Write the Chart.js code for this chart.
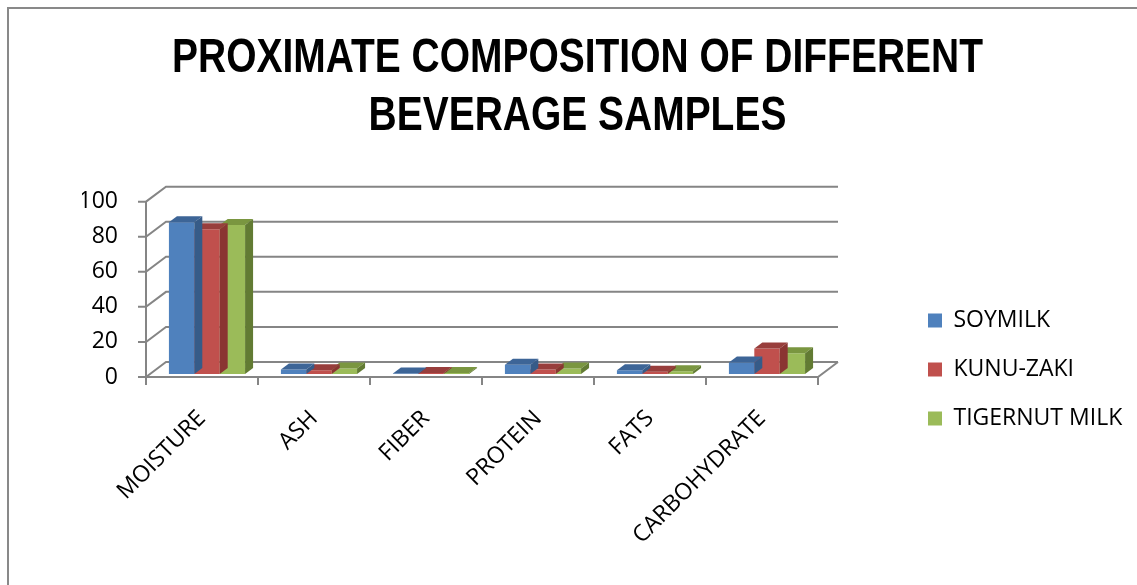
<!DOCTYPE html>
<html><head><meta charset="utf-8">
<script src="https://cdn.jsdelivr.net/npm/chart.js@4"></script>
<style>
html,body{margin:0;padding:0;background:#fff;overflow:hidden;width:1137px;height:585px}
#frame{position:absolute;left:7px;top:7px;border-left:2px solid #898989;border-top:2px solid #898989;width:1140px;height:590px}
#wrap{position:absolute;left:0;top:0;width:1137px;height:576px}
</style></head><body>
<div id="frame"><div id="wrap"><canvas id="c" width="1137" height="576"></canvas></div></div>
<script>
const categories = ['MOISTURE', 'ASH', 'FIBER', 'PROTEIN', 'FATS', 'CARBOHYDRATE'];
const soymilk = [86.6, 2.5, 0.3, 5.3, 2.1, 6.6];
const kunuZaki = [82.5, 2.1, 0.6, 2.5, 1.3, 14.5];
const tigernutMilk = [84.9, 3.2, 0.5, 3.2, 1.5, 11.8];
const yTicks = [0, 20, 40, 60, 80, 100];
const titleLines = ['PROXIMATE COMPOSITION OF DIFFERENT', 'BEVERAGE SAMPLES'];
const seriesNames = ['SOYMILK', 'KUNU-ZAKI', 'TIGERNUT MILK'];

const frontColors = ['#4F81BD', '#C0504D', '#9BBB59'];
const topColors = ['#3D6597', '#983E3C', '#7A9640'];
const sideColors = ['#365B88', '#8A3532', '#627B33'];

const DX = 20, DY = 15;      // wall depth
const BX = 5, BY = -3;       // bar plane offset
const BDX = 8, BDY = 6;      // bar depth
const TITLE_SX = 0.795;
const LEGEND_LEFT = 893, LEGEND_TOP = 274;

const frame3d = {
  id: 'frame3d',
  afterLayout(chart) {
    const lg = chart.legend;
    if (lg) {
      lg.left = LEGEND_LEFT;
      lg.right = chart.width;
      lg.width = lg.right - lg.left;
      lg.top = LEGEND_TOP;
      lg.bottom = LEGEND_TOP + 200;
      lg.height = 200;
    }
    const t = chart.titleBlock;
    if (t) {
      t.left = 0;
      t.right = chart.width;
      t.width = chart.width;
    }
  },
  beforeDraw(chart) {
    const t = chart.titleBlock;
    if (t && !t._narrow) {
      const orig = t.draw.bind(t);
      t.draw = function () {
        const ctx = this.ctx;
        const cx = (this.left + this.right) / 2;
        ctx.save();
        ctx.translate(cx, 0);
        ctx.scale(TITLE_SX, 1);
        ctx.translate(-cx, 0);
        orig();
        ctx.restore();
      };
      t._narrow = true;
    }
  },
  beforeDatasetsDraw(chart) {
    const {ctx, chartArea: a, scales: {y}} = chart;
    const y0 = y.getPixelForValue(0), yTop = y.getPixelForValue(100);
    ctx.save();
    ctx.strokeStyle = '#858585';
    ctx.lineWidth = 2;
    ctx.beginPath();
    yTicks.forEach(v => {
      const p = y.getPixelForValue(v);
      ctx.moveTo(a.left - 8, p);
      ctx.lineTo(a.left, p);
      ctx.lineTo(a.left + DX, p - DY);
      ctx.lineTo(a.right + DX, p - DY);
    });
    ctx.moveTo(a.left, yTop);
    ctx.lineTo(a.left, y0);
    ctx.lineTo(a.right, y0);
    ctx.lineTo(a.right + DX, y0 - DY);
    const n = categories.length, w = (a.right - a.left) / n;
    for (let i = 0; i <= n; i++) {
      const px = a.left + i * w;
      ctx.moveTo(px, y0);
      ctx.lineTo(px, y0 + 8);
    }
    ctx.stroke();
    ctx.restore();
    ctx.save();
    ctx.translate(BX, BY);
  },
  afterDatasetDraw(chart, args) {
    const ctx = chart.ctx;
    const i = args.index;
    args.meta.data.forEach(el => {
      const {x, y, base, width} = el.getProps(['x', 'y', 'base', 'width'], true);
      const l = x - width / 2, r = x + width / 2;
      ctx.fillStyle = topColors[i];
      ctx.beginPath();
      ctx.moveTo(l, y); ctx.lineTo(r, y); ctx.lineTo(r + BDX, y - BDY); ctx.lineTo(l + BDX, y - BDY);
      ctx.closePath(); ctx.fill();
      ctx.fillStyle = sideColors[i];
      ctx.beginPath();
      ctx.moveTo(r, y); ctx.lineTo(r + BDX, y - BDY); ctx.lineTo(r + BDX, base - BDY); ctx.lineTo(r, base);
      ctx.closePath(); ctx.fill();
    });
  },
  afterDatasetsDraw(chart) {
    chart.ctx.restore();
  }
};

new Chart(document.getElementById('c'), {
  type: 'bar',
  data: {
    labels: categories,
    datasets: [
      {label: seriesNames[0], data: soymilk, backgroundColor: frontColors[0], borderWidth: 0},
      {label: seriesNames[1], data: kunuZaki, backgroundColor: frontColors[1], borderWidth: 0},
      {label: seriesNames[2], data: tigernutMilk, backgroundColor: frontColors[2], borderWidth: 0}
    ]
  },
  options: {
    responsive: false,
    animation: false,
    devicePixelRatio: 1,
    datasets: {bar: {barPercentage: 1, categoryPercentage: 0.68}},
    layout: {padding: {left: 73, right: 178, top: 0, bottom: 0}},
    plugins: {
      tooltip: {enabled: false},
      title: {
        display: true,
        text: titleLines,
        color: '#000',
        font: {family: "'Liberation Sans', Arial, sans-serif", size: 49, weight: 'bold', lineHeight: 1.18},
        padding: {top: 21, bottom: 56}
      },
      legend: {
        position: 'right',
        align: 'start',
        maxWidth: 150,
        labels: {
          boxWidth: 14, boxHeight: 14, padding: 26, color: '#000',
          font: {family: "'Open Sans', sans-serif", size: 23}
        }
      }
    },
    scales: {
      x: {
        grid: {display: false, drawTicks: false},
        border: {display: false},
        ticks: {
          color: '#000', autoSkip: false, maxRotation: 45, minRotation: 45, padding: 28,
          font: {family: "'Open Sans', sans-serif", size: 23}
        },
        afterFit(s) { s.height = 208; }
      },
      y: {
        min: 0, max: 100,
        grid: {display: false, drawTicks: false},
        border: {display: false},
        ticks: {
          stepSize: 20, color: '#000', padding: 28,
          font: {family: "'Open Sans', sans-serif", size: 23}
        },
        afterFit(s) { s.width = 64; }
      }
    }
  },
  plugins: [frame3d]
});
</script>
</body></html>
